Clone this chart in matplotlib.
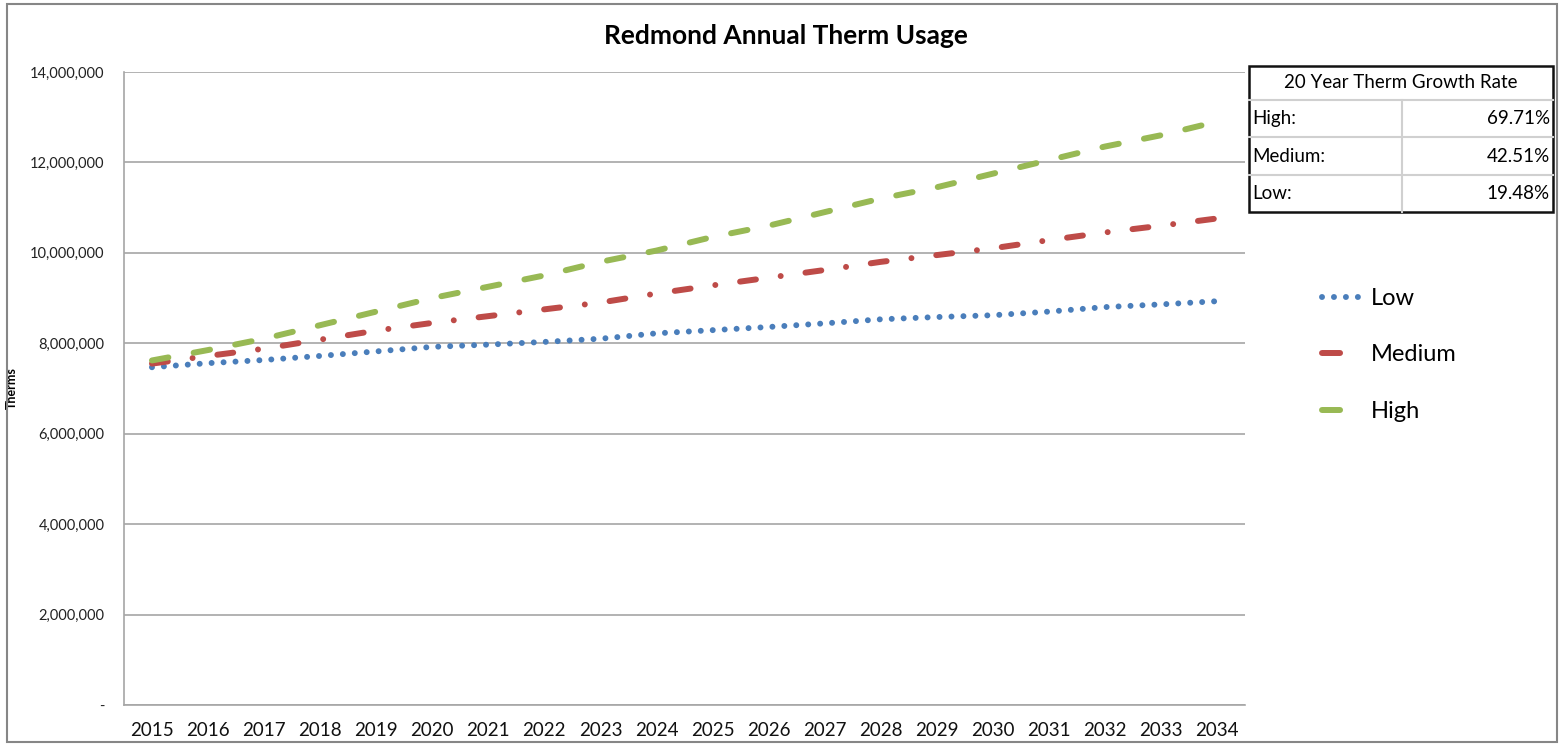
from matplotlib import pyplot as plt
from matplotlib.lines import Line2D
from matplotlib.patches import Rectangle
from matplotlib.ticker import FuncFormatter

plt.rcParams['font.family'] = ['Lato', 'DejaVu Sans']
plt.rcParams['lines.scale_dashes'] = False

years = [str(y) for y in range(2015, 2035)]
low = [7.47, 7.56, 7.63, 7.72, 7.82, 7.92, 7.97, 8.03, 8.10, 8.22,
       8.29, 8.36, 8.44, 8.53, 8.58, 8.62, 8.70, 8.80, 8.86, 8.93]
medium = [7.55, 7.72, 7.88, 8.08, 8.28, 8.45, 8.60, 8.75, 8.90, 9.10,
          9.28, 9.45, 9.62, 9.80, 9.95, 10.10, 10.28, 10.45, 10.60, 10.76]
high = [7.62, 7.85, 8.10, 8.40, 8.70, 9.00, 9.25, 9.50, 9.80, 10.05,
        10.35, 10.60, 10.90, 11.20, 11.45, 11.75, 12.05, 12.35, 12.60, 12.90]
low = [v * 1e6 for v in low]
medium = [v * 1e6 for v in medium]
high = [v * 1e6 for v in high]

rate_names = ['High:', 'Medium:', 'Low:']
rate_values = ['69.71%', '42.51%', '19.48%']

blue = '#4a7ebb'
red = '#be4b48'
green = '#98b954'

fig = plt.figure(figsize=(15.65, 7.45), dpi=100, facecolor='white')
ax = fig.add_axes([0.0792, 0.0537, 0.7163, 0.8497])

lw = 4.3
ax.plot(years, low, color=blue, lw=lw, dashes=(0.01, 8.6), dash_capstyle='round', label='Low')
ax.plot(years, medium, color=red, lw=lw, dashes=(11.5, 18, 0.01, 18), dash_capstyle='round', label='Medium')
ax.plot(years, high, color=green, lw=lw, dashes=(12, 18.5), dash_capstyle='round', label='High')

ax.set_xlim(-0.5, len(years) - 0.5)
ax.set_ylim(0, 14e6)
ax.set_yticks(range(0, 14000001, 2000000))
ax.yaxis.set_major_formatter(FuncFormatter(lambda v, p: '-' if v == 0 else '{:,.0f}'.format(v)))
ax.grid(axis='y', color='#a6a6a6', lw=1.2)
ax.set_axisbelow(True)
for s in ['top', 'right']:
    ax.spines[s].set_visible(False)
for s in ['left', 'bottom']:
    ax.spines[s].set_color('#a6a6a6')
    ax.spines[s].set_linewidth(1.2)
ax.tick_params(axis='y', length=0, pad=14, labelsize=10.5, colors='#222222')
ax.tick_params(axis='x', length=0, pad=12, labelsize=13.5, colors='#111111')
ax.set_ylabel('Therms', fontsize=9, fontweight='bold')
ax.yaxis.set_label_coords(-0.0946, 0.5)

fig.text(0.502, 0.952, 'Redmond Annual Therm Usage', ha='center', va='center',
         fontsize=19, fontweight='bold')

# legend
handles = [Line2D([], [], color=blue, lw=lw, dashes=(0.01, 8.6), dash_capstyle='round'),
           Line2D([], [], color=red, lw=lw, dashes=(13, 40), dash_capstyle='round'),
           Line2D([], [], color=green, lw=lw, dashes=(13, 40), dash_capstyle='round')]
fig.legend(handles, ['Low', 'Medium', 'High'], loc='center left',
           bbox_to_anchor=(0.8313, 0.5235), frameon=False, fontsize=17,
           handlelength=1.7, handletextpad=0.34, labelspacing=1.5)

# growth rate table
W, H = 1565.0, 745.0
x0, x1, xm = 1249, 1553, 1402
rows_y = [66, 100, 137, 175, 212]
for i in range(len(rate_names)):
    yt, yb = rows_y[i + 1], rows_y[i + 2]
    fig.add_artist(Line2D([x0 / W, x1 / W], [1 - yt / H, 1 - yt / H], color='#d0d0d0', lw=1.5))
    fig.text((x0 + 3) / W, 1 - (yt + yb) / 2 / H, rate_names[i], ha='left', va='center', fontsize=13.5)
    fig.text((x1 - 3) / W, 1 - (yt + yb) / 2 / H, rate_values[i], ha='right', va='center', fontsize=13.5)
fig.add_artist(Line2D([xm / W, xm / W], [1 - rows_y[1] / H, 1 - rows_y[-1] / H], color='#d0d0d0', lw=1.5))
fig.text((x0 + x1) / 2 / W, 1 - (rows_y[0] + rows_y[1]) / 2 / H, '20 Year Therm Growth Rate',
         ha='center', va='center', fontsize=13.5)
fig.add_artist(Rectangle((x0 / W, 1 - rows_y[-1] / H), (x1 - x0) / W, (rows_y[-1] - rows_y[0]) / H,
                         fill=False, edgecolor='#111111', lw=1.8))

# outer chart border
fig.add_artist(Rectangle((7 / W, 3 / H), 1550 / W, 738 / H, fill=False, edgecolor='#868686', lw=1.5))

plt.savefig('out.png', dpi=100, facecolor='white')
